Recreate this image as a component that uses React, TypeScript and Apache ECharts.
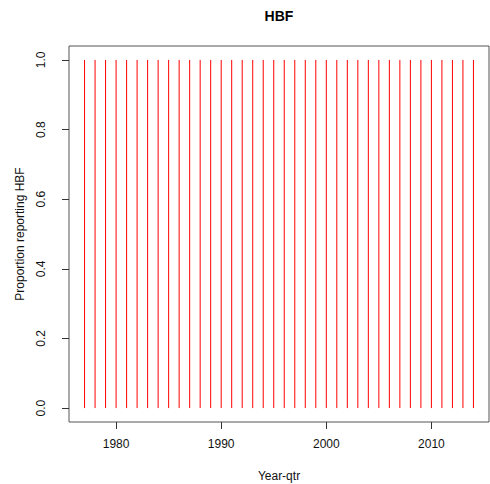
import React, { useEffect, useRef } from "react";
import * as echarts from "echarts";

const years: number[] = [
  1977, 1978, 1979, 1980, 1981, 1982, 1983, 1984, 1985, 1986,
  1987, 1988, 1989, 1990, 1991, 1992, 1993, 1994, 1995, 1996,
  1997, 1998, 1999, 2000, 2001, 2002, 2003, 2004, 2005, 2006,
  2007, 2008, 2009, 2010, 2011, 2012, 2013, 2014,
];
const proportions: number[] = [
  1, 1, 1, 1, 1, 1, 1, 1, 1, 1,
  1, 1, 1, 1, 1, 1, 1, 1, 1, 1,
  1, 1, 1, 1, 1, 1, 1, 1, 1, 1,
  1, 1, 1, 1, 1, 1, 1, 1,
];
const xTicks: number[] = [1980, 1990, 2000, 2010];
const yTicks: number[] = [0, 0.2, 0.4, 0.6, 0.8, 1.0];

const FONT = "'Liberation Sans', Arial, Helvetica, sans-serif";

export default function App() {
  const ref = useRef<HTMLDivElement>(null);
  useEffect(() => {
    document.body.style.margin = "0";
    if (!ref.current) return;
    const chart = echarts.init(ref.current, undefined, { renderer: "svg" });
    const data = years.map((y, i) => [y, proportions[i]]);
    const xr = years[years.length - 1] - years[0];
    const xMin = years[0] - 0.04 * xr;
    const xMax = years[years.length - 1] + 0.04 * xr;
    chart.setOption({
      animation: false,
      backgroundColor: "#ffffff",
      textStyle: { fontFamily: FONT },
      grid: {
        left: 69,
        right: 1,
        top: 46,
        bottom: 62,
        show: true,
        borderColor: "#555",
        borderWidth: 1,
        backgroundColor: "transparent",
      },
      xAxis: {
        type: "value",
        min: xMin,
        max: xMax,
        splitLine: { show: false },
        axisLine: { show: false, onZero: false },
        axisTick: {
          show: true,
          length: 7,
          inside: false,
          customValues: xTicks,
          lineStyle: { color: "#333" },
        },
        axisLabel: {
          customValues: xTicks,
          margin: 16,
          fontSize: 12,
          color: "#111",
          fontFamily: FONT,
          formatter: (v: number) => String(Math.round(v)),
        },
      },
      yAxis: {
        type: "value",
        min: -0.04,
        max: 1.04,
        splitLine: { show: false },
        axisLine: { show: false, onZero: false },
        axisTick: {
          show: true,
          length: 7,
          inside: false,
          customValues: yTicks,
          lineStyle: { color: "#333" },
        },
        axisLabel: {
          customValues: yTicks,
          rotate: 90,
          margin: 22,
          fontSize: 12,
          color: "#111",
          fontFamily: FONT,
          formatter: (v: number) => v.toFixed(1),
        },
      },
      graphic: [
        {
          type: "text",
          x: 279,
          y: 16,
          style: {
            text: "HBF",
            fontSize: 14,
            fontWeight: "bold",
            fontFamily: FONT,
            fill: "#000",
            align: "center",
            verticalAlign: "middle",
          },
        },
        {
          type: "text",
          x: 279,
          y: 476,
          style: {
            text: "Year-qtr",
            fontSize: 12,
            fontFamily: FONT,
            fill: "#111",
            align: "center",
            verticalAlign: "middle",
          },
        },
        {
          type: "text",
          x: 20,
          y: 234,
          rotation: Math.PI / 2,
          style: {
            text: "Proportion reporting HBF",
            fontSize: 12,
            fontFamily: FONT,
            fill: "#111",
            align: "center",
            verticalAlign: "middle",
          },
        },
      ],
      series: [
        {
          type: "custom",
          data,
          renderItem: (params: any, api: any) => {
            const x = api.value(0);
            const y = api.value(1);
            const p0 = api.coord([x, 0]);
            const p1 = api.coord([x, y]);
            return {
              type: "line",
              shape: { x1: p0[0], y1: p0[1], x2: p1[0], y2: p1[1] },
              style: { stroke: "#ff0000", lineWidth: 1 },
            };
          },
        },
      ],
    });
    return () => chart.dispose();
  }, []);
  return <div ref={ref} style={{ width: 490, height: 484 }} />;
}
